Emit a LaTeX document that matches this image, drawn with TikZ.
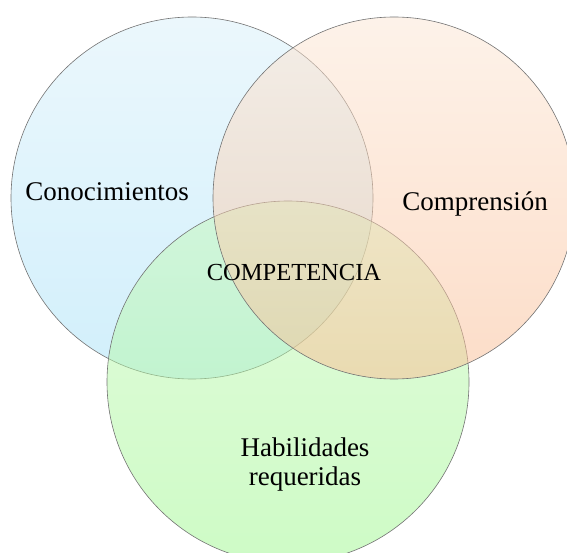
\documentclass[tikz,border=0pt]{standalone}
\usepackage{fontspec}
\setmainfont{Liberation Serif}
\definecolor{bluetop}{RGB}{217,241,251}
\definecolor{bluebot}{RGB}{165,225,249}
\definecolor{orgtop}{RGB}{253,231,213}
\definecolor{orgbot}{RGB}{251,188,146}
\definecolor{grntop}{RGB}{200,248,188}
\definecolor{grnbot}{RGB}{158,249,142}
\definecolor{rim}{RGB}{115,115,115}
\tikzset{
  venn/.style={draw=rim, line width=0.6pt, fill opacity=0.5},
  lbl/.style={anchor=base, inner sep=0pt, text=black, font=\fontsize{27}{29}\selectfont}
}
\begin{document}
\begin{tikzpicture}[x=1pt,y=-1pt]
\useasboundingbox (0,0) rectangle (567,553);
\clip (0,0) rectangle (567,553);
\fill[white] (0,0) rectangle (567,553);
\path[venn, top color=bluetop, bottom color=bluebot] (192,198) circle[radius=181];
\path[venn, top color=grntop, bottom color=grnbot] (288,382) circle[radius=181];
\path[venn, top color=orgtop, bottom color=orgbot] (394,198) circle[radius=181];
\node[lbl] (con) at (107,201) {Conocimientos};
\node[lbl] (com) at (475,211) {Comprensión};
\node[lbl, font=\fontsize{24.5}{29}\selectfont] (cmp) at (294,280) {COMPETENCIA};
\node[lbl] (hab) at (305,456) {Habilidades};
\node[lbl] (req) at (305,485) {requeridas};
\end{tikzpicture}
\end{document}
